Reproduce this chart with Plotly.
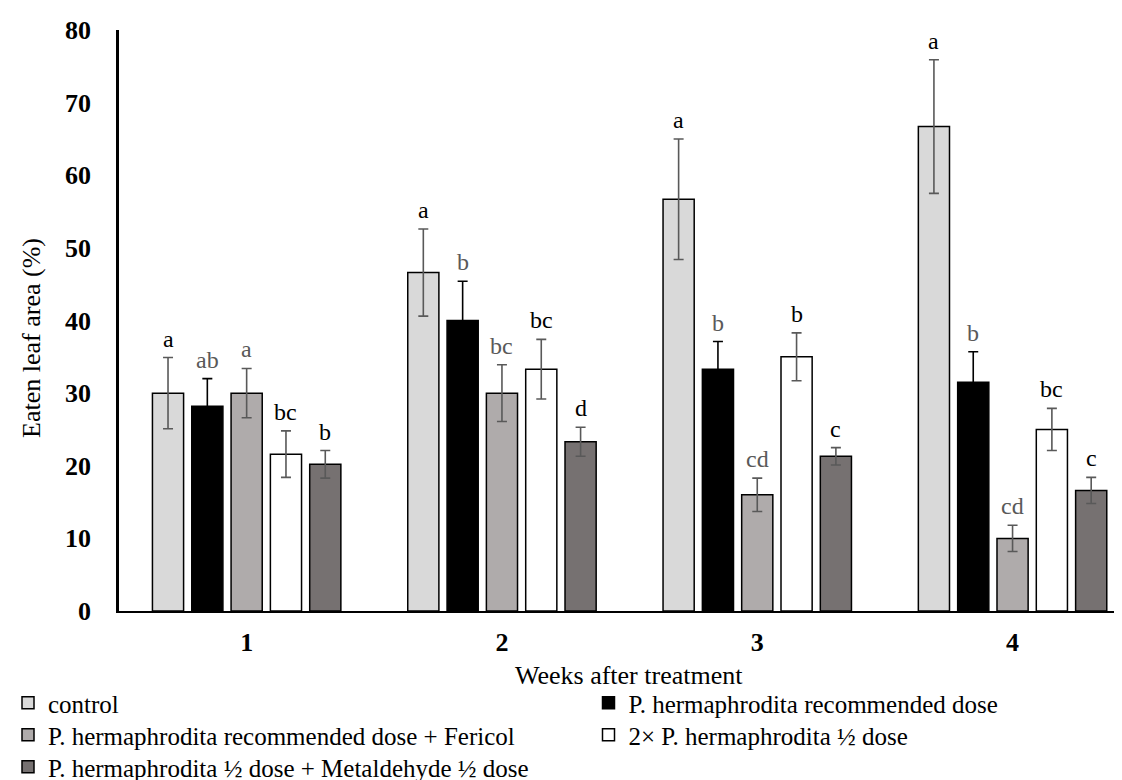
import plotly.graph_objects as go

weeks = [1, 2, 3, 4]
week_labels = ["1", "2", "3", "4"]

series_names = [
    "control",
    "P. hermaphrodita recommended dose",
    "P. hermaphrodita recommended dose + Fericol",
    "2× P. hermaphrodita ½ dose",
    "P. hermaphrodita ½ dose + Metaldehyde ½ dose",
]

control = [30.0, 46.6, 56.7, 66.7]
control_err = [4.9, 6.0, 8.3, 9.2]
control_letters = ["a", "a", "a", "a"]

recommended = [28.2, 40.0, 33.3, 31.5]
recommended_err = [3.8, 5.4, 3.8, 4.2]
recommended_letters = ["ab", "b", "b", "b"]

fericol = [30.0, 30.0, 16.0, 10.0]
fericol_err = [3.4, 3.9, 2.3, 1.8]
fericol_letters = ["a", "bc", "cd", "cd"]

double_half = [21.6, 33.3, 35.0, 25.0]
double_half_err = [3.2, 4.1, 3.3, 2.9]
double_half_letters = ["bc", "bc", "b", "bc"]

metaldehyde = [20.2, 23.3, 21.3, 16.6]
metaldehyde_err = [1.9, 2.0, 1.2, 1.8]
metaldehyde_letters = ["b", "d", "c", "c"]

values = [control, recommended, fericol, double_half, metaldehyde]
errors = [control_err, recommended_err, fericol_err, double_half_err, metaldehyde_err]
letters = [control_letters, recommended_letters, fericol_letters, double_half_letters, metaldehyde_letters]

fills = ["#d9d9d9", "#000000", "#afabab", "#ffffff", "#767171"]
err_colors = ["#595959", "#000000", "#595959", "#595959", "#595959"]
letter_colors = ["#000000", "#595959", "#595959", "#000000", "#000000"]

# legend layout: two columns, three rows (one single-entry legend per slot)
legend_ids = ["legend", "legend2", "legend3", "legend4", "legend5"]
legend_x_px = [0, 580.5, 0, 580.5, 0]
legend_y_px = [695, 695, 727, 727, 759]

FONT = "Liberation Serif"
W, H = 1122, 780
step = 0.154
bar_w = 0.122

fig = go.Figure()
annotations = []
for i, name in enumerate(series_names):
    off = (i - 2) * step
    xs = [w + off for w in weeks]
    fig.add_trace(go.Bar(
        x=xs, y=values[i], width=bar_w, name=name, legend=legend_ids[i],
        marker=dict(color=fills[i], line=dict(color="#000000", width=1.5)),
        error_y=dict(type="data", array=errors[i], visible=True,
                     color=err_colors[i], thickness=1.6, width=5),
    ))
    for j in range(len(weeks)):
        annotations.append(dict(
            x=xs[j], y=values[i][j] + errors[i][j], xref="x", yref="y",
            text=letters[i][j], showarrow=False, yanchor="bottom", yshift=4,
            font=dict(family=FONT, size=24, color=letter_colors[i]),
        ))

# axis titles
annotations.append(dict(
    x=-87 / 1011, y=0.47, xref="paper", yref="paper", text="Eaten leaf area (%)",
    textangle=-90, showarrow=False, xanchor="center", yanchor="middle",
    font=dict(family=FONT, size=26, color="#000000"),
))
annotations.append(dict(
    x=0.5045, y=-64 / 581, xref="paper", yref="paper", text="Weeks after treatment",
    showarrow=False, xanchor="center", yanchor="middle",
    font=dict(family=FONT, size=26, color="#000000"),
))

legends = {}
for k, lid in enumerate(legend_ids):
    legends[lid] = dict(
        orientation="h", xref="container", yref="container",
        x=legend_x_px[k] / W, y=1 - legend_y_px[k] / H,
        xanchor="left", yanchor="middle",
        font=dict(family=FONT, size=25, color="#000000"),
        bgcolor="rgba(0,0,0,0)", itemwidth=30,
    )

fig.update_layout(
    width=W, height=H,
    margin=dict(l=111, r=0, t=22, b=177),
    paper_bgcolor="white", plot_bgcolor="white",
    barmode="overlay",
    showlegend=True,
    font=dict(family=FONT, color="#000000"),
    annotations=annotations,
    xaxis=dict(
        range=[0.5, 4.46], tickmode="array", tickvals=weeks, ticktext=week_labels,
        showline=True, linecolor="#000000", linewidth=2.2, ticks="",
        showgrid=False, zeroline=False,
        tickfont=dict(family=FONT, size=26, color="#000000", weight="bold"),
        ticklabelstandoff=7,
    ),
    yaxis=dict(
        range=[0, 80], tickmode="linear", tick0=0, dtick=10,
        showline=True, linecolor="#000000", linewidth=2.5, ticks="",
        showgrid=False, zeroline=False,
        tickfont=dict(family=FONT, size=26, color="#000000", weight="bold"),
        ticklabelstandoff=20,
    ),
    **legends,
)

fig.write_html("out.html")
